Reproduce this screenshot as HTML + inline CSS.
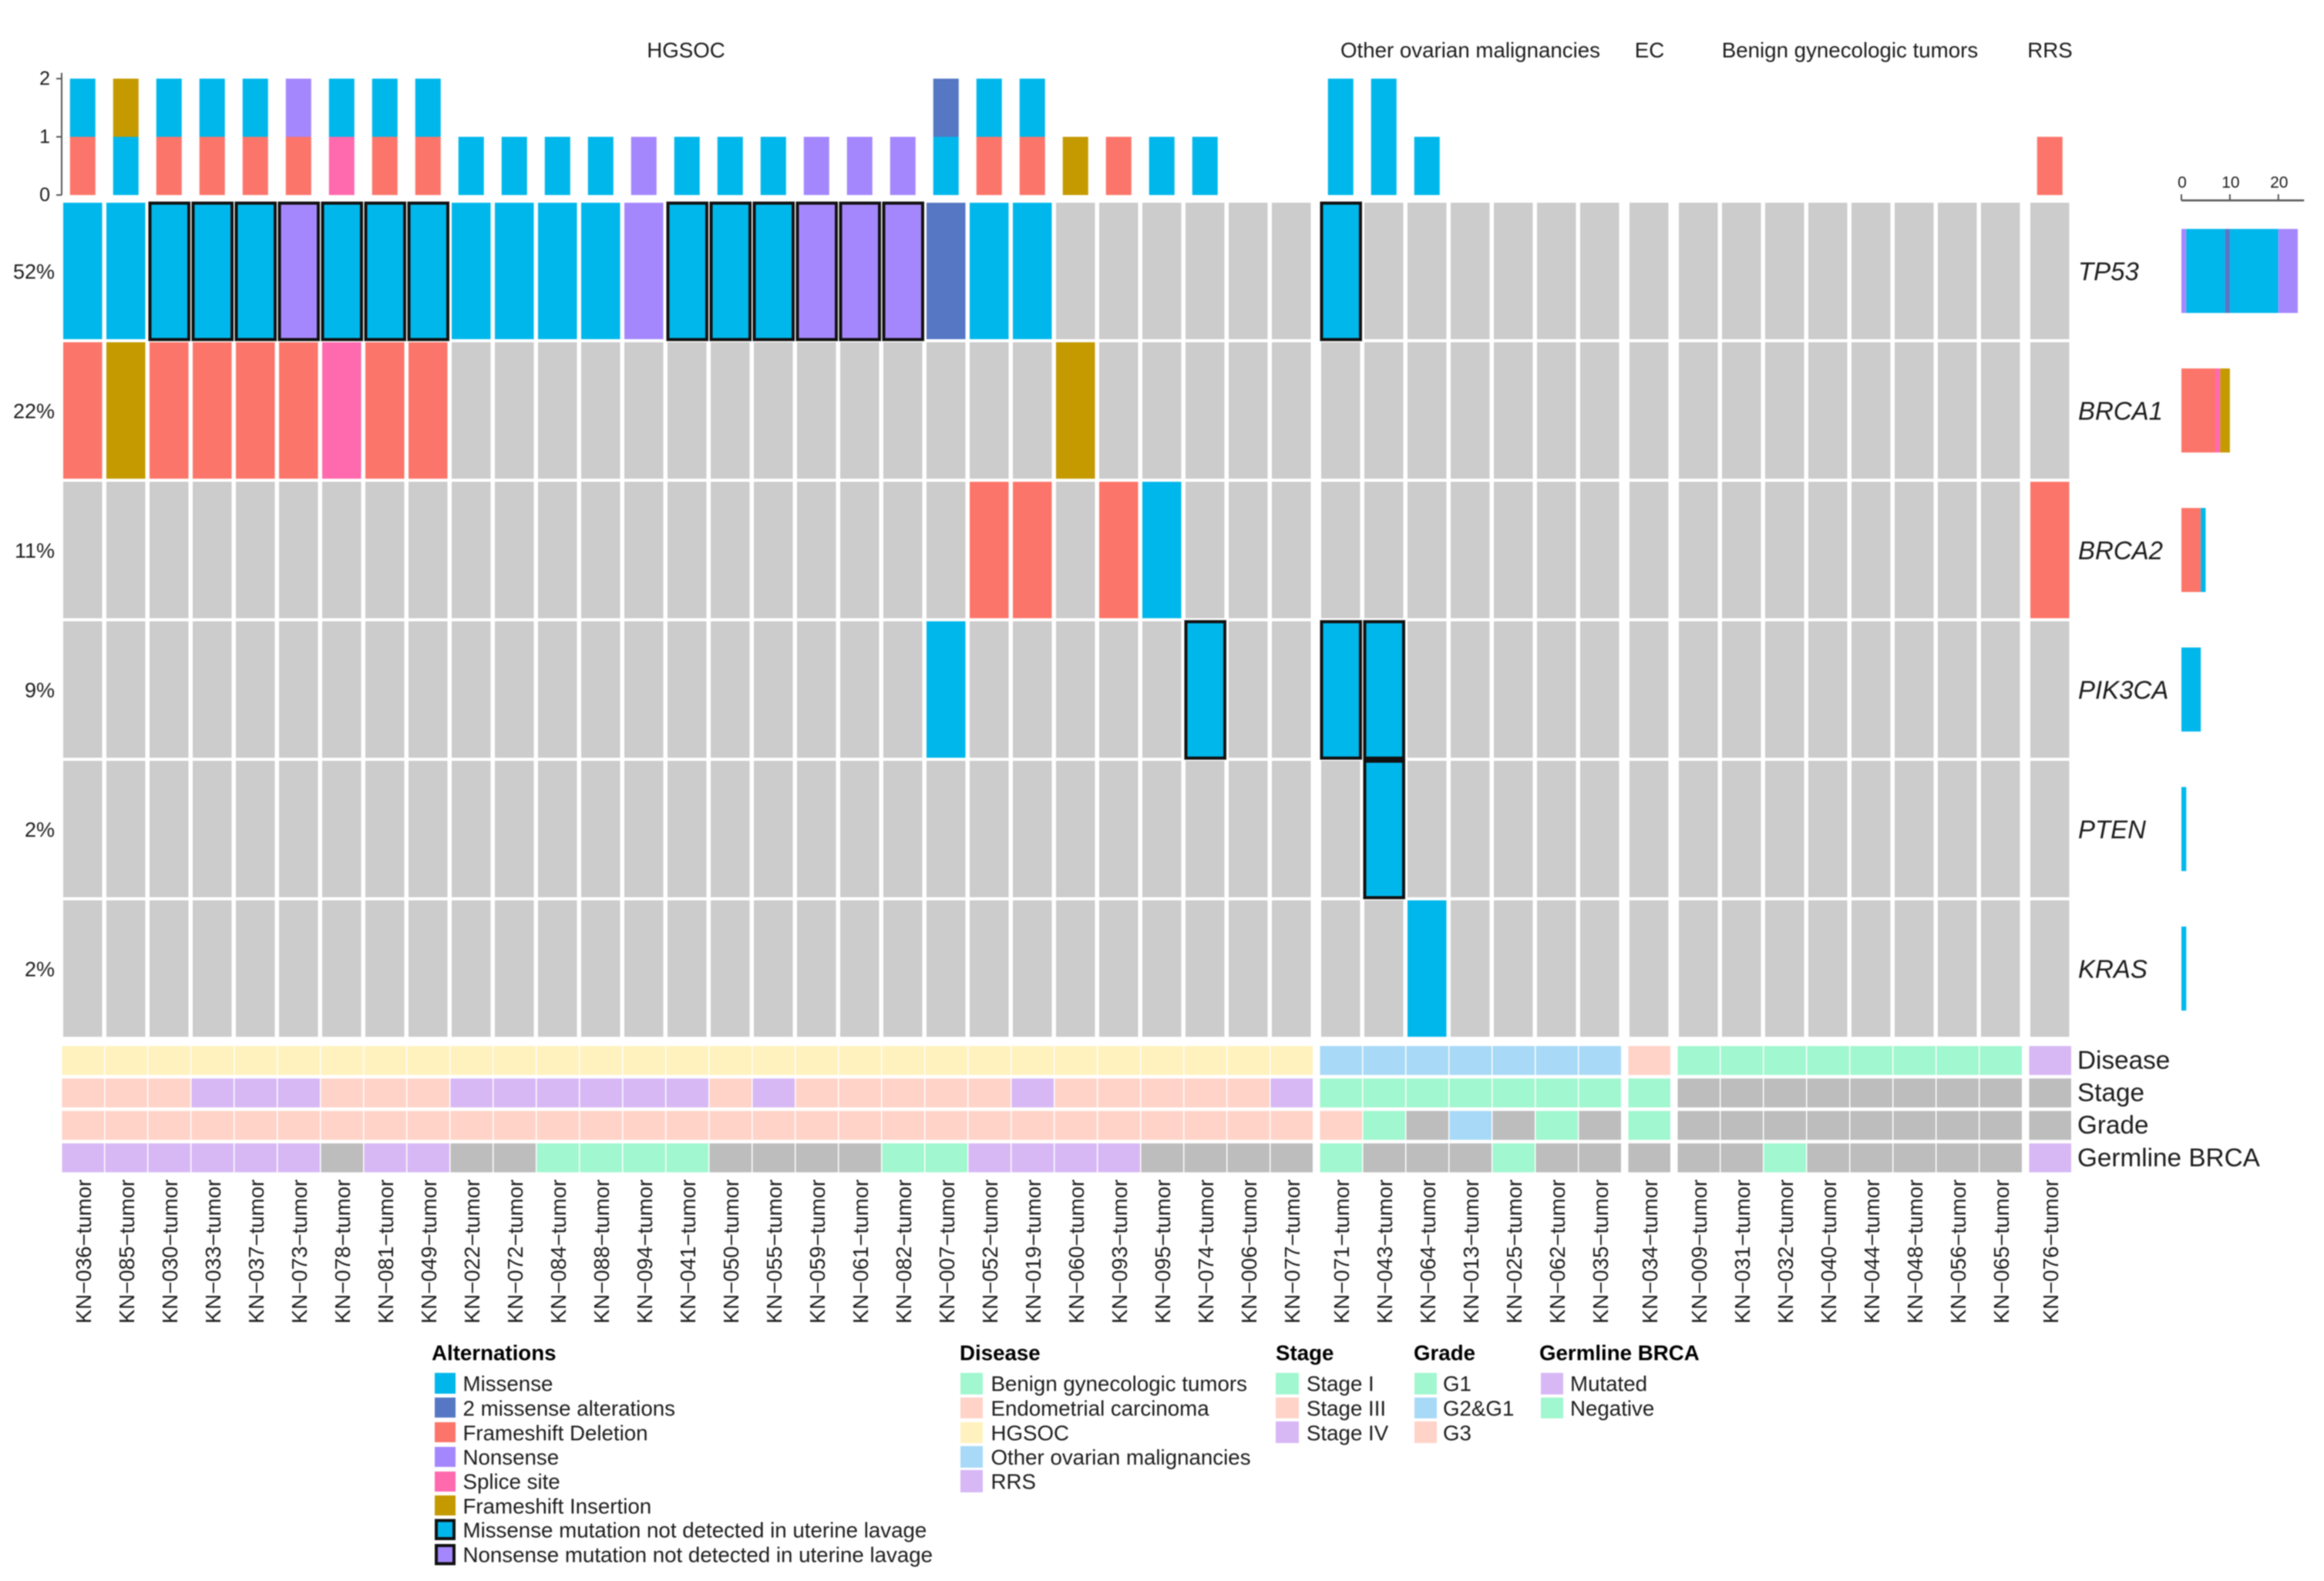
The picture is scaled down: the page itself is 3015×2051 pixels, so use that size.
<!DOCTYPE html>
<html lang="en">
<head>
<meta charset="utf-8">
<title>Oncoprint of tumor mutations</title>
<style>
html,body{margin:0;padding:0;background:#fff;width:3015px;height:2051px;overflow:hidden}
svg{display:block;filter:blur(0.8px)}
text{font-family:"Liberation Sans",sans-serif;fill:#1c1c1c}
.t{font-size:27.7px}
.b{font-size:27.7px;font-weight:bold;fill:#000}
</style>
</head>
<body>
<svg id="chart" xmlns="http://www.w3.org/2000/svg" width="3015" height="2051" viewBox="0 0 3015 2051">
  <g>
    <text class="t" x="890" y="65" text-anchor="middle" dominant-baseline="central">HGSOC</text>
    <text class="t" x="1907.500" y="65" text-anchor="middle" dominant-baseline="central">Other ovarian malignancies</text>
    <text class="t" x="2140" y="65" text-anchor="middle" dominant-baseline="central">EC</text>
    <text class="t" x="2400" y="65" text-anchor="middle" dominant-baseline="central">Benign gynecologic tumors</text>
    <text class="t" x="2659.500" y="65" text-anchor="middle" dominant-baseline="central">RRS</text>
  </g>
  <g id="top-bars"></g>
  <g id="matrix"></g>
  <g id="annotations"></g>
  <g id="sample-labels"></g>
  <g id="gene-labels"></g>
  <g id="right-bars"></g>

  <g>
    <text class="b" x="560" y="1755" dominant-baseline="central">Alternations</text>
    <g><rect x="564" y="1781" width="27" height="27" fill="#00B7EB"/><text class="t" x="600.500" y="1795" dominant-baseline="central">Missense</text></g>
    <g><rect x="564" y="1813" width="27" height="26" fill="#5577C4"/><text class="t" x="600.500" y="1827" dominant-baseline="central">2 missense alterations</text></g>
    <g><rect x="564" y="1845" width="27" height="26" fill="#FC756A"/><text class="t" x="600.500" y="1859" dominant-baseline="central">Frameshift Deletion</text></g>
    <g><rect x="564" y="1877" width="27" height="26" fill="#A587FD"/><text class="t" x="600.500" y="1890.500" dominant-baseline="central">Nonsense</text></g>
    <g><rect x="564" y="1909" width="27" height="26" fill="#FF69AE"/><text class="t" x="600.500" y="1922" dominant-baseline="central">Splice site</text></g>
    <g><rect x="564" y="1940" width="27" height="26" fill="#C49A00"/><text class="t" x="600.500" y="1954" dominant-baseline="central">Frameshift Insertion</text></g>
    <g><rect x="566" y="1972.500" width="23" height="23.500" fill="#00B7EB" stroke="#111" stroke-width="4"/><text class="t" x="600.500" y="1985" dominant-baseline="central">Missense mutation not detected in uterine lavage</text></g>
    <g><rect x="566" y="2005" width="23" height="23.500" fill="#A587FD" stroke="#111" stroke-width="4"/><text class="t" x="600.500" y="2017" dominant-baseline="central">Nonsense mutation not detected in uterine lavage</text></g>
  </g>

  <g>
    <text class="b" x="1245" y="1755" dominant-baseline="central">Disease</text>
    <g><rect x="1246" y="1781" width="29" height="28" fill="#A1F7CF"/><text class="t" x="1285.500" y="1795" dominant-baseline="central">Benign gynecologic tumors</text></g>
    <g><rect x="1246" y="1813" width="29" height="27" fill="#FFD3C8"/><text class="t" x="1285.500" y="1827" dominant-baseline="central">Endometrial carcinoma</text></g>
    <g><rect x="1246" y="1845" width="29" height="27" fill="#FFF2BE"/><text class="t" x="1285.500" y="1859" dominant-baseline="central">HGSOC</text></g>
    <g><rect x="1246" y="1876" width="29" height="28" fill="#A8D9F7"/><text class="t" x="1285.500" y="1890.500" dominant-baseline="central">Other ovarian malignancies</text></g>
    <g><rect x="1246" y="1907" width="29" height="29" fill="#D7B8F5"/><text class="t" x="1285.500" y="1922" dominant-baseline="central">RRS</text></g>
  </g>

  <g>
    <text class="b" x="1655" y="1755" dominant-baseline="central">Stage</text>
    <g><rect x="1655" y="1781" width="30" height="28" fill="#A1F7CF"/><text class="t" x="1695" y="1795" dominant-baseline="central">Stage I</text></g>
    <g><rect x="1655" y="1813" width="30" height="27" fill="#FFD3C8"/><text class="t" x="1695" y="1827" dominant-baseline="central">Stage III</text></g>
    <g><rect x="1655" y="1844" width="30" height="28" fill="#D7B8F5"/><text class="t" x="1695" y="1859" dominant-baseline="central">Stage IV</text></g>
  </g>

  <g>
    <text class="b" x="1834" y="1755" dominant-baseline="central">Grade</text>
    <g><rect x="1835" y="1781" width="29" height="28" fill="#A1F7CF"/><text class="t" x="1872" y="1795" dominant-baseline="central">G1</text></g>
    <g><rect x="1835" y="1813" width="29" height="27" fill="#A8D9F7"/><text class="t" x="1872" y="1827" dominant-baseline="central">G2&amp;G1</text></g>
    <g><rect x="1835" y="1844" width="29" height="28" fill="#FFD3C8"/><text class="t" x="1872" y="1859" dominant-baseline="central">G3</text></g>
  </g>

  <g>
    <text class="b" x="1997" y="1755" dominant-baseline="central">Germline BRCA</text>
    <g><rect x="1999" y="1781" width="29" height="28" fill="#D7B8F5"/><text class="t" x="2037" y="1795" dominant-baseline="central">Mutated</text></g>
    <g><rect x="1999" y="1813" width="29" height="27" fill="#A1F7CF"/><text class="t" x="2037" y="1827" dominant-baseline="central">Negative</text></g>
  </g>
</svg>

<script>
// ---------- data ----------
const samples = ["036","085","030","033","037","073","078","081","049","022","072","084","088","094","041","050","055","059","061","082","007","052","019","060","093","095","074","006","077","071","043","064","013","025","062","035","034","009","031","032","040","044","048","056","065","076"];
const diseaseTrack = ["H","H","H","H","H","H","H","H","H","H","H","H","H","H","H","H","H","H","H","H","H","H","H","H","H","H","H","H","H","O","O","O","O","O","O","O","E","B","B","B","B","B","B","B","B","R"];
const stageTrack = ["3","3","3","4","4","4","3","3","3","4","4","4","4","4","4","3","4","3","3","3","3","3","4","3","3","3","3","3","4","1","1","1","1","1","1","1","1","n","n","n","n","n","n","n","n","n"];
const gradeTrack = ["3","3","3","3","3","3","3","3","3","3","3","3","3","3","3","3","3","3","3","3","3","3","3","3","3","3","3","3","3","3","1","n","2","n","1","n","1","n","n","n","n","n","n","n","n","n"];
const germlineTrack = ["m","m","m","m","m","m","n","m","m","n","n","g","g","g","g","n","n","n","n","g","g","m","m","m","m","n","n","n","n","g","n","n","n","g","n","n","n","n","n","g","n","n","n","n","n","m"];

// alteration codes per gene: sample code -> M missense, D 2 missense, F frameshift deletion, N nonsense, S splice site, I frameshift insertion
const geneTP53 = {"036":"M","085":"M","030":"M","033":"M","037":"M","073":"N","078":"M","081":"M","049":"M","022":"M","072":"M","084":"M","088":"M","094":"N","041":"M","050":"M","055":"M","059":"N","061":"N","082":"N","007":"D","052":"M","019":"M","071":"M"};
const geneBRCA1 = {"036":"F","085":"I","030":"F","033":"F","037":"F","073":"F","078":"S","081":"F","049":"F","060":"I"};
const geneBRCA2 = {"052":"F","019":"F","093":"F","095":"M","076":"F"};
const genePIK3CA = {"007":"M","074":"M","071":"M","043":"M"};
const genePTEN = {"043":"M"};
const geneKRAS = {"064":"M"};
const geneNames = ["TP53","BRCA1","BRCA2","PIK3CA","PTEN","KRAS"];
const geneRows = [geneTP53,geneBRCA1,geneBRCA2,genePIK3CA,genePTEN,geneKRAS];
const genePercents = ["52%","22%","11%","9%","2%","2%"];

// samples whose mutation was not detected in uterine lavage
const boxedTP53 = ["030","033","037","073","078","081","049","041","050","055","059","061","082","071"];
const boxedPIK3CA = ["074","071","043"];
const boxedPTEN = ["043"];
const boxedRows = {TP53:boxedTP53,PIK3CA:boxedPIK3CA,PTEN:boxedPTEN};

// right-hand stacked bars: alteration code and count, in drawn order
const countsTP53 = [["N",1],["M",8],["D",1],["M",10],["N",4]];
const countsBRCA1 = [["F",7],["S",1],["I",2]];
const countsBRCA2 = [["F",4],["M",1]];
const countsPIK3CA = [["M",4]];
const countsPTEN = [["M",1]];
const countsKRAS = [["M",1]];
const geneCounts = [countsTP53,countsBRCA1,countsBRCA2,countsPIK3CA,countsPTEN,countsKRAS];

const topTicks = [0,1,2];
const rightTicks = [0,10,20];
const trackNames = ["Disease","Stage","Grade","Germline BRCA"];
const tracks = [diseaseTrack,stageTrack,gradeTrack,germlineTrack];

// ---------- style ----------
const altColor = {M:"#00B7EB",D:"#5577C4",F:"#FC756A",N:"#A587FD",S:"#FF69AE",I:"#C49A00"};
const stackOrder = ["F","S","M","N","D","I"];
const trackColor = [
  {H:"#FFF2BE",O:"#A8D9F7",E:"#FFD3C8",B:"#A1F7CF",R:"#D7B8F5"},
  {"1":"#A1F7CF","3":"#FFD3C8","4":"#D7B8F5",n:"#BDBDBD"},
  {"1":"#A1F7CF","2":"#A8D9F7","3":"#FFD3C8",n:"#BDBDBD"},
  {m:"#D7B8F5",g:"#A1F7CF",n:"#BDBDBD"}
];
const NS = "http://www.w3.org/2000/svg";
const CELL_W = 50.5;

// ---------- scales ----------
function colX(i){
  let groups = 0;
  for(let k = 1; k <= i; k++){ if(diseaseTrack[k] !== diseaseTrack[k-1]) groups++; }
  return 82 + i*56 + groups*8;
}
function rowY(r){ return 263 + r*181; }
function topY(v){ return 253 - v*75.5; }
function rightX(v){ return 2830 + v*6.29; }
function trackY(t){ return 1357 + t*42.1; }

function add(parent, tag, attrs, txt){
  const el = document.createElementNS(NS, tag);
  for(const k in attrs){ el.setAttribute(k, attrs[k]); }
  if(txt !== undefined){ el.textContent = txt; }
  parent.appendChild(el);
  return el;
}

// ---------- top bars ----------
const topG = document.getElementById("top-bars");
const topAxis = add(topG, "line", {x1:80,x2:80,y1:topY(2.1),y2:topY(0),stroke:"#555","stroke-width":2});


topTicks.forEach(function(v){
  const tick = add(topG, "line", {x1:73,x2:80,y1:topY(v),y2:topY(v),stroke:"#555","stroke-width":2});
  
  
  const lab = add(topG, "text", {x:65,y:topY(v),"text-anchor":"end","dominant-baseline":"central","font-size":25}, String(v));
  
  
});
samples.forEach(function(s,i){
  const codes = [];
  geneRows.forEach(function(g){ if(g[s]) codes.push(g[s]); });
  codes.sort(function(a,b){ return stackOrder.indexOf(a)-stackOrder.indexOf(b); });
  codes.forEach(function(c,k){
    const bar = add(topG, "rect", {x:colX(i)+CELL_W/2-16.5,y:topY(k+1),width:33,height:topY(k)-topY(k+1),fill:altColor[c]});
    
    
  });
});

// ---------- matrix ----------
const matG = document.getElementById("matrix");
geneRows.forEach(function(g,r){
  samples.forEach(function(s,i){
    const cell = add(matG, "rect", {x:colX(i),y:rowY(r),width:CELL_W,height:177,fill:g[s]?altColor[g[s]]:"#CCCCCC"});
    
    
  });
});
geneNames.forEach(function(name,r){
  (boxedRows[name]||[]).forEach(function(s){
    const i = samples.indexOf(s);
    const box = add(matG, "rect", {x:colX(i)+0.5,y:rowY(r)+0.5,width:CELL_W,height:177,fill:"none",stroke:"#111","stroke-width":4});
    
    
  });
});

// ---------- annotation tracks ----------
const annG = document.getElementById("annotations");
tracks.forEach(function(tr,t){
  tr.forEach(function(code,i){
    const cell = add(annG, "rect", {x:colX(i)-1.5,y:trackY(t),width:54.5,height:37.5,fill:trackColor[t][code]});
    
    
  });
});
const labelG = document.getElementById("gene-labels");
trackNames.forEach(function(n,t){
  const lab = add(labelG, "text", {x:2695,y:trackY(t)+19,"dominant-baseline":"central","font-size":33.3}, n);
  
  
});

// ---------- sample labels ----------
const sampG = document.getElementById("sample-labels");
samples.forEach(function(s,i){
  const bx = colX(i)+CELL_W/2+10.5;
  const lab = add(sampG, "text", {x:bx,y:1530,"text-anchor":"end","font-size":27.6,transform:"rotate(-90 "+bx+" 1530)"}, "KN\u2212"+s+"\u2212tumor");
  
  
});

// ---------- gene labels and percents ----------
geneNames.forEach(function(n,r){
  const lab = add(labelG, "text", {x:2696,y:rowY(r)+89,"dominant-baseline":"central","font-size":33,"font-style":"italic"}, n);
  
  
  const pct = add(labelG, "text", {x:71,y:rowY(r)+89.5,"text-anchor":"end","dominant-baseline":"central","font-size":27}, genePercents[r]);
  
  
});

// ---------- right stacked bars ----------
const rG = document.getElementById("right-bars");
const rAxis = add(rG, "line", {x1:rightX(0),x2:rightX(25.3),y1:260,y2:260,stroke:"#555","stroke-width":2.5});


rightTicks.forEach(function(v){
  const tick = add(rG, "line", {x1:rightX(v),x2:rightX(v),y1:252,y2:260,stroke:"#555","stroke-width":2});
  
  
  const lab = add(rG, "text", {x:rightX(v)+1,y:237,"text-anchor":"middle","dominant-baseline":"central","font-size":21}, String(v));
  
  
});
geneCounts.forEach(function(segs,r){
  let cum = 0;
  segs.forEach(function(seg){
    const bar = add(rG, "rect", {x:rightX(cum),y:rowY(r)+34,width:rightX(cum+seg[1])-rightX(cum),height:109,fill:altColor[seg[0]]});
    
    
    cum += seg[1];
  });
});
</script>
</body>
</html>
